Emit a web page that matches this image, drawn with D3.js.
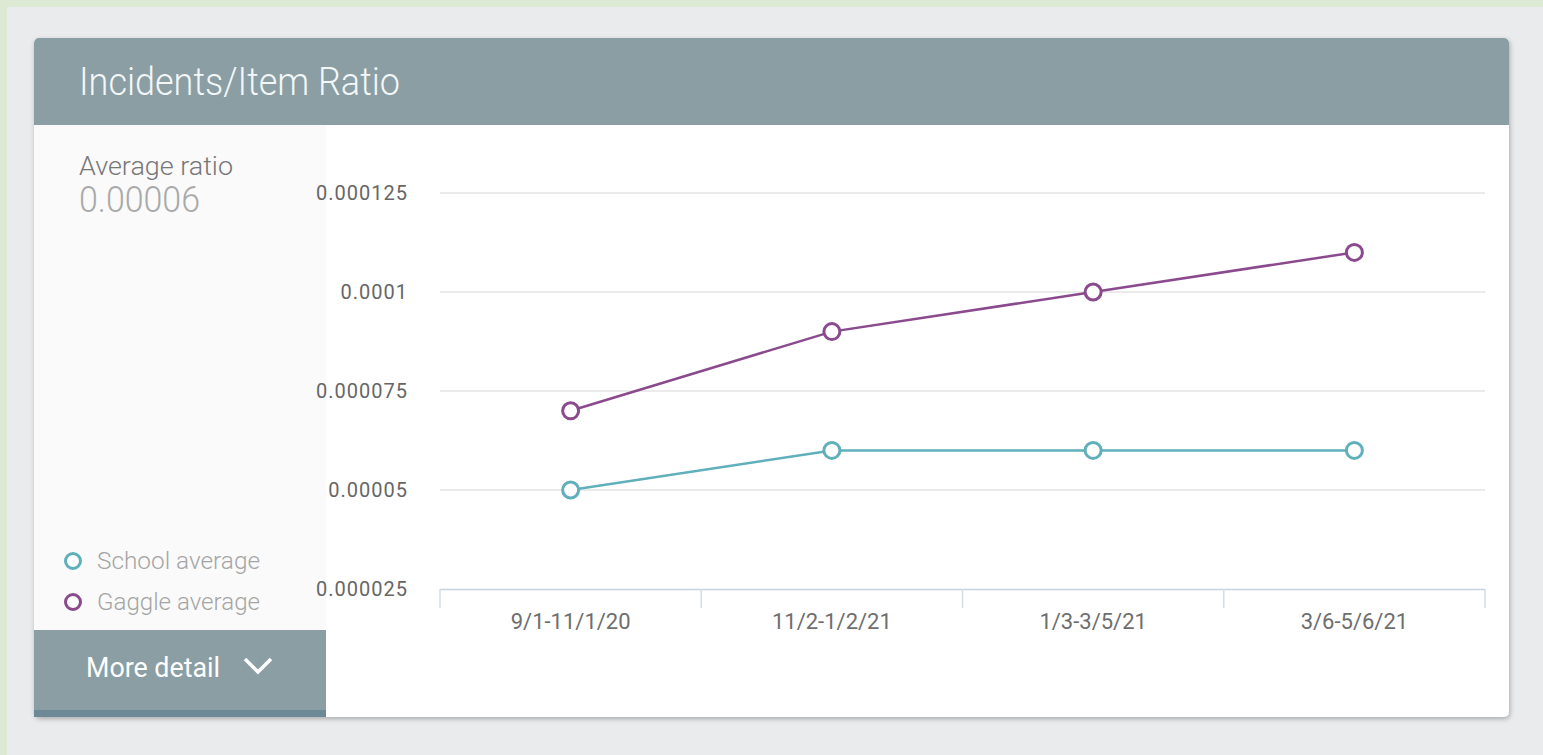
<!DOCTYPE html>
<html><head><meta charset="utf-8">
<script src="https://cdn.jsdelivr.net/npm/d3@7/dist/d3.min.js"></script>
<style>
html,body{margin:0;padding:0;background:#dcead4;}
svg{display:block;}
</style></head>
<body>
<svg id="c" width="1543" height="755"></svg>
<script>
const categories = ["9/1-11/1/20", "11/2-1/2/21", "1/3-3/5/21", "3/6-5/6/21"];
const schoolAverage = [0.00005, 0.00006, 0.00006, 0.00006];
const gaggleAverage = [0.00007, 0.00009, 0.0001, 0.00011];
const yTicks = [0.000025, 0.00005, 0.000075, 0.0001, 0.000125];
const yTickLabels = ["0.000025", "0.00005", "0.000075", "0.0001", "0.000125"];
const seriesNames = ["School average", "Gaggle average"];
const title = "Incidents/Item Ratio";
const avgLabel = "Average ratio";
const avgValue = "0.00006";

const teal = "#5fb0bb", purple = "#8a4a8d";
const svg = d3.select("#c");
const font = "Roboto, 'Open Sans', sans-serif";

const defs = svg.append("defs");
const f = defs.append("filter").attr("id","sh").attr("x","-5%").attr("y","-5%").attr("width","110%").attr("height","115%");
f.append("feDropShadow").attr("dx",1).attr("dy",2).attr("stdDeviation",2.5).attr("flood-color","#000").attr("flood-opacity",0.28);

// background
svg.append("rect").attr("x",7).attr("y",7).attr("width",1536).attr("height",748).attr("fill","#eaebec");

// card
svg.append("rect").attr("x",34).attr("y",38).attr("width",1475).attr("height",679).attr("rx",5).attr("fill","#fff").attr("filter","url(#sh)");
// header
svg.append("path").attr("d","M34,125 V43 a5,5 0 0 1 5,-5 H1504 a5,5 0 0 1 5,5 V125 Z").attr("fill","#8a9ea4");
svg.append("text").attr("x",79).attr("y",95).attr("font-family",font).attr("font-size",38).attr("font-weight",300)
  .attr("fill","#f4f7f8").attr("textLength",321).attr("lengthAdjust","spacingAndGlyphs").text(title);

// left panel
svg.append("rect").attr("x",34).attr("y",125).attr("width",292).attr("height",505).attr("fill","#fafafa");
svg.append("text").attr("x",79).attr("y",175).attr("font-family",font).attr("font-size",25).attr("font-weight",300)
  .attr("fill","#777").attr("textLength",154).attr("lengthAdjust","spacingAndGlyphs").text(avgLabel);
svg.append("text").attr("x",79).attr("y",212).attr("font-family",font).attr("font-size",37).attr("font-weight",300)
  .attr("fill","#a9a9a9").attr("textLength",121).attr("lengthAdjust","spacingAndGlyphs").text(avgValue);

// legend
const legColors = [teal, purple];
seriesNames.forEach((n,i)=>{
  const y = 561 + i*41;
  svg.append("circle").attr("cx",73).attr("cy",y).attr("r",7.5).attr("fill","#fff").attr("stroke",legColors[i]).attr("stroke-width",3);
  svg.append("text").attr("x",97).attr("y",y+8).attr("font-family",font).attr("font-size",23).attr("font-weight",300)
    .attr("fill","#a5a5a5").attr("textLength",163).attr("lengthAdjust","spacingAndGlyphs").text(n);
});

// more detail button
svg.append("path").attr("d","M34,630 H326 V717 H39 a5,5 0 0 1 -5,-5 Z").attr("fill","#8a9ea4");
svg.append("rect").attr("x",34).attr("y",710).attr("width",292).attr("height",7).attr("fill","#6d8995");
svg.append("text").attr("x",86).attr("y",677).attr("font-family",font).attr("font-size",27).attr("font-weight",400)
  .attr("fill","#fff").attr("textLength",134).attr("lengthAdjust","spacingAndGlyphs").text("More detail");
svg.append("path").attr("d","M245,659 L258,672 L271,659").attr("fill","none").attr("stroke","#fff").attr("stroke-width",3.5);

// chart
const x = d3.scaleBand().domain(categories).range([440,1485]).paddingInner(0).paddingOuter(0);
const y = d3.scaleLinear().domain([0.000025,0.000125]).range([589,193]);

const g = svg.append("g");
// grid
g.selectAll("line.grid").data(yTicks.filter(t=>t>0.000025)).enter().append("line")
  .attr("x1",440).attr("x2",1485).attr("y1",d=>y(d)).attr("y2",d=>y(d)).attr("stroke","#e4e4e4").attr("stroke-width",1.5);

// y labels
g.selectAll("text.yl").data(yTicks).enter().append("text")
  .attr("x",408).attr("y",d=>y(d)+7).attr("text-anchor","end").attr("font-family",font).attr("font-size",20)
  .attr("letter-spacing",1).attr("fill","#666").text((d,i)=>yTickLabels[i]);

// x axis
const xa = g.append("g").attr("transform","translate(0,589)").call(d3.axisBottom(x).tickSize(0).tickPadding(24));
xa.select(".domain").attr("stroke","#c7d4df").attr("stroke-width",1.5).attr("d","M440,0.5H1485");
xa.selectAll("text").attr("font-family",font).attr("font-size",22).attr("fill","#6e6e6e");
const bounds = categories.map(c=>x(c)).concat([x(categories[3])+x.bandwidth()]);
g.selectAll("line.xt").data(bounds).enter().append("line")
  .attr("x1",d=>d).attr("x2",d=>d).attr("y1",589).attr("y2",608).attr("stroke","#d4dde5").attr("stroke-width",1.5);

const cx = c => x(c)+x.bandwidth()/2;
const line = d3.line().x((d,i)=>cx(categories[i])).y(d=>y(d));
[[schoolAverage,teal],[gaggleAverage,purple]].forEach(([data,col])=>{
  g.append("path").attr("d",line(data)).attr("fill","none").attr("stroke",col).attr("stroke-width",2.5);
  g.selectAll(null).data(data).enter().append("circle")
    .attr("cx",(d,i)=>cx(categories[i])).attr("cy",d=>y(d)).attr("r",8).attr("fill","#fff").attr("stroke",col).attr("stroke-width",3);
});
</script>
</body></html>
